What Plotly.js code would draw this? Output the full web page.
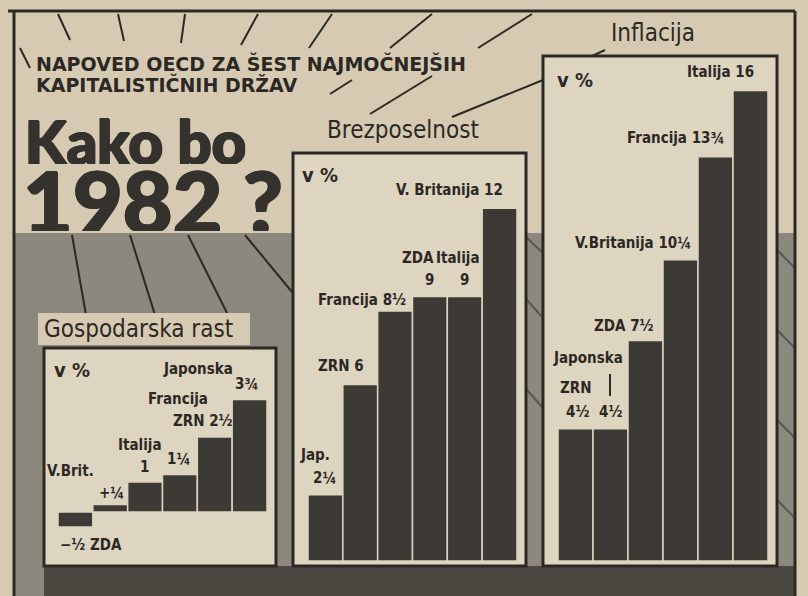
<!DOCTYPE html>
<html>
<head>
<meta charset="utf-8">
<script src="https://cdn.plot.ly/plotly-3.0.1.min.js"></script>
<style>html,body{margin:0;padding:0;background:#d6cbb2;}#chart{width:808px;height:596px;}</style>
</head>
<body>
<div id="chart"></div>
<script>
// ---- DATA ----
const growthCountries = ['ZDA', 'V.Brit.', 'Italija', 'Francija', 'ZRN', 'Japonska'];
const growthValues = [-0.5, 0.25, 1, 1.25, 2.5, 3.75];
const growthValueLabels = ['−½', '+¼', '1', '1¼', '2½', '3¾'];

const unempCountries = ['Jap.', 'ZRN', 'Francija', 'ZDA', 'Italija', 'V. Britanija'];
const unempValues = [2.25, 6, 8.5, 9, 9, 12];
const unempValueLabels = ['2¼', '6', '8½', '9', '9', '12'];

const inflCountries = ['ZRN', 'Japonska', 'ZDA', 'V.Britanija', 'Francija', 'Italija'];
const inflValues = [4.5, 4.5, 7.5, 10.25, 13.75, 16];
const inflValueLabels = ['4½', '4½', '7½', '10¼', '13¾', '16'];

const headerLines = ['NAPOVED OECD ZA ŠEST NAJMOČNEJŠIH', 'KAPITALISTIČNIH DRŽAV'];
const titleLines = ['Kako bo', '1982 ?'];
const panelTitles = ['Gospodarska rast', 'Brezposelnost', 'Inflacija'];
const unitLabel = 'v %';

// ---- STYLE / GEOMETRY ----
const W = 808, H = 596;
const PAPER = '#d6cbb2', PANEL = '#ded5c0', INK = '#2c2925', BAR = '#3d3a35';
const HALFTONE = '#8d887d', DARK = '#4c4841', TITLE = '#35322d';
const px = x => x / W;
const py = y => 1 - y / H;
const LABEL_FONT = {family: 'DejaVu Sans Condensed, Liberation Sans Narrow, sans-serif', size: 15, color: INK, weight: 'bold'};

// pixel geometry of each plot: left, right, top, bottom, zero-pixel, px per unit
const geo = [
  {l: 58, r: 267, t: 380, b: 540, zero: 512, ppu: 30},
  {l: 308, r: 517, t: 180, b: 561, zero: 561, ppu: 29.4},
  {l: 558, r: 768, t: 70, b: 561, zero: 561, ppu: 29.4}
];
function yaxisFor(g) {
  return {domain: [py(g.b), py(g.t)], range: [-(g.b - g.zero) / g.ppu, (g.zero - g.t) / g.ppu],
          visible: false, fixedrange: true, showgrid: false, zeroline: false};
}
function xaxisFor(g) {
  return {domain: [px(g.l), px(g.r)], range: [-0.5, 5.5], type: 'category',
          visible: false, fixedrange: true, showgrid: false, zeroline: false};
}

function barTrace(cats, vals, ax) {
  return {type: 'bar', x: cats, y: vals, xaxis: 'x' + ax, yaxis: 'y' + ax,
          marker: {color: BAR, line: {color: PANEL, width: 1.5}}, hoverinfo: 'skip', showlegend: false};
}
const traces = [
  barTrace(growthCountries, growthValues, ''),
  barTrace(unempCountries, unempValues, '2'),
  barTrace(inflCountries, inflValues, '3')
];

const annotations = [];
function lab(ax, cat, val, text, dx, dy, extra) {
  annotations.push(Object.assign({xref: 'x' + ax, yref: 'y' + ax, x: cat, y: val, text: text,
    showarrow: false, xanchor: 'center', yanchor: 'middle', xshift: dx, yshift: dy, font: LABEL_FONT}, extra || {}));
}
function ptxt(x, y, text, font, xanchor, extra) {
  annotations.push(Object.assign({xref: 'paper', yref: 'paper', x: px(x), y: py(y), text: text, showarrow: false,
    xanchor: xanchor || 'left', yanchor: 'middle', font: font}, extra || {}));
}

// Panel 1 labels
const G = growthCountries, GV = growthValues, GL = growthValueLabels;
lab('', G[0], GV[0], GL[0] + ' ' + G[0], 16, -18);
lab('', G[1], GV[1], G[1], -40, 34);
lab('', G[1], GV[1], GL[1], 1, 12);
lab('', G[2], GV[2], G[2], -5, 37);
lab('', G[2], GV[2], GL[2], -1, 15);
lab('', G[3], GV[3], GL[3], -1, 16);
lab('', G[3], GV[3], G[3], -2, 76);
lab('', G[4], GV[4], G[4] + ' ' + GL[4], -12, 16);
lab('', G[5], GV[5], G[5], -52, 31);
lab('', G[5], GV[5], GL[5], -3, 16);

// Panel 2 labels
const U = unempCountries, UV = unempValues, UL = unempValueLabels;
lab('2', U[0], UV[0], U[0], -10, 40);
lab('2', U[0], UV[0], UL[0], -1, 17);
lab('2', U[1], UV[1], U[1] + ' ' + UL[1], -19, 19);
lab('2', U[2], UV[2], U[2] + ' ' + UL[2], -33, 11);
lab('2', U[3], UV[3], U[3], -12, 38);
lab('2', U[3], UV[3], UL[3], 0, 16);
lab('2', U[4], UV[4], U[4], -7, 38);
lab('2', U[4], UV[4], UL[4], 0, 16);
lab('2', U[5], UV[5], U[5] + ' ' + UL[5], -50, 18);

// Panel 3 labels
const I = inflCountries, IV = inflValues, IL = inflValueLabels;
lab('3', I[0], IV[0], I[0], 0, 41);
lab('3', I[0], IV[0], IL[0], 2, 17);
lab('3', I[1], IV[1], I[1], -23, 71);
lab('3', I[1], IV[1], IL[1], 0, 17);
lab('3', I[2], IV[2], I[2] + ' ' + IL[2], -22, 15);
lab('3', I[3], IV[3], I[3] + ' ' + IL[3], -48, 17);
lab('3', I[4], IV[4], I[4] + ' ' + IL[4], -40, 19);
lab('3', I[5], IV[5], I[5] + ' ' + IL[5], -30, 19);

// Unit labels
const unitFont = {family: 'DejaVu Sans Condensed, sans-serif', size: 20, color: INK, weight: 'bold'};
ptxt(52, 370, unitLabel, unitFont);
ptxt(300, 175, unitLabel, unitFont);
ptxt(555, 80, unitLabel, unitFont);

// Headers
const headFont = {family: 'DejaVu Sans, sans-serif', size: 19, color: INK, weight: 'bold'};
ptxt(34, 64, headerLines[0], headFont);
ptxt(34, 85, headerLines[1], headFont);
const ptFont = {family: 'DejaVu Sans Condensed, sans-serif', size: 24, color: INK};
ptxt(42, 329, panelTitles[0], ptFont);
ptxt(325, 130, panelTitles[1], ptFont);
ptxt(609, 33, panelTitles[2], ptFont);
// big title (heavy, with a slight shadow to thicken the strokes)
const heavy = '1px 0px 0px ' + TITLE + ', 2px 1px 0px ' + TITLE + ', 0px 1px 0px ' + TITLE;
ptxt(22, 141, titleLines[0], {family: 'Lato, Roboto, sans-serif', size: 60, color: TITLE, weight: 900, shadow: heavy}, 'left', {height: 46});
ptxt(20, 199, titleLines[1], {family: 'Lato, Roboto, sans-serif', size: 86, color: TITLE, weight: 900, shadow: heavy}, 'left', {height: 64});

// Shapes
const shapes = [];
function rect(x0, y0, x1, y1, fill, lineColor, lw) {
  shapes.push({type: 'rect', xref: 'paper', yref: 'paper', x0: px(x0), y0: py(y1), x1: px(x1), y1: py(y0),
    fillcolor: fill, line: {color: lineColor || fill, width: lw || 0}, layer: 'below'});
}
function line(x0, y0, x1, y1, w, c) {
  shapes.push({type: 'line', xref: 'paper', yref: 'paper', x0: px(x0), y0: py(y0), x1: px(x1), y1: py(y1),
    line: {color: c || INK, width: w || 2}, layer: 'below'});
}
rect(14, 233, 795, 596, HALFTONE);
rect(44, 566, 795, 596, DARK);
// decorative stripes in the halftone
line(527, 238, 543, 253, 2, '#5a564e');
line(527, 300, 543, 318, 2, '#5a564e');
line(527, 390, 543, 408, 2, '#5a564e');
line(777, 250, 795, 268, 2, '#5a564e');
line(777, 330, 795, 348, 2, '#5a564e');
line(777, 420, 795, 438, 2, '#5a564e');
line(777, 500, 795, 518, 2, '#5a564e');
// rays from the big title
line(72, 235, 86, 315, 2);
line(130, 235, 155, 315, 2);
line(188, 235, 228, 315, 2);
line(245, 235, 292, 292, 2);
// panels
rect(44, 348, 276, 566, PANEL, INK, 3);
rect(293, 153, 526, 566, PANEL, INK, 3);
rect(543, 56, 777, 566, PANEL, INK, 3);
rect(38, 313, 250, 345, PAPER);
// frame
line(8, 11, 795, 11, 3);
line(14, 11, 14, 596, 3);
line(795, 11, 795, 596, 3);
// top rays
line(20, 48, 30, 68, 2);
line(58, 14, 70, 40, 2);
line(118, 14, 124, 41, 2);
line(185, 14, 181, 43, 2);
line(258, 14, 241, 45, 2);
line(332, 14, 309, 48, 2);
line(432, 14, 390, 48, 2);
line(532, 14, 478, 48, 2);
line(352, 80, 330, 94, 2);
line(432, 76, 370, 114, 2);
line(543, 80, 452, 117, 2);
line(605, 50, 592, 56, 2);
// connector in inflation panel
line(610, 374, 610, 396, 2);

const layout = {
  width: W, height: H, margin: {l: 0, r: 0, t: 0, b: 0},
  paper_bgcolor: PAPER, plot_bgcolor: 'rgba(0,0,0,0)',
  bargap: 0, showlegend: false, hovermode: false,
  xaxis: xaxisFor(geo[0]), yaxis: yaxisFor(geo[0]),
  xaxis2: xaxisFor(geo[1]), yaxis2: yaxisFor(geo[1]),
  xaxis3: xaxisFor(geo[2]), yaxis3: yaxisFor(geo[2]),
  shapes: shapes, annotations: annotations
};
Plotly.newPlot('chart', traces, layout, {staticPlot: true, displayModeBar: false});
</script>
</body>
</html>
